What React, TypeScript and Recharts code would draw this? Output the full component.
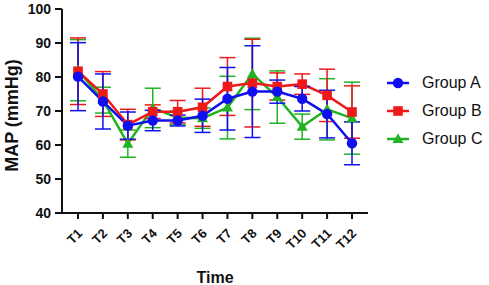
import React from 'react';
import { LineChart, Line, XAxis, YAxis, ErrorBar, Legend } from 'recharts';

const categories = ['T1', 'T2', 'T3', 'T4', 'T5', 'T6', 'T7', 'T8', 'T9', 'T10', 'T11', 'T12'];
const groupA = [80.1, 72.8, 65.7, 67.2, 67.2, 68.6, 73.6, 75.7, 75.7, 73.6, 69.1, 60.5];
const groupAErr = [10, 8.1, 4, 3, 1.6, 4.9, 9.2, 13.5, 3.4, 3.6, 7, 6.3];
const groupB = [81.7, 75, 66, 69.8, 69.8, 71.1, 77.2, 78.2, 77.2, 77.9, 74.6, 69.7];
const groupBErr = [9.8, 6.6, 4.5, 2, 3.3, 5.6, 8.5, 12.9, 4, 3, 7.7, 7.7];
const groupC = [82, 73.2, 60.4, 70.9, 68, 67.9, 71, 80.9, 74.1, 65.4, 70.5, 67.9];
const groupCErr = [9, 3.8, 4, 5.8, 2, 3, 9.2, 10.5, 7.7, 3.7, 9, 10.6];
const yTicks = [40, 50, 60, 70, 80, 90, 100];
const seriesNames = ['Group A', 'Group B', 'Group C'];
const yTitle = 'MAP (mmHg)';
const xTitle = 'Time';

const BLUE = '#0f0fef';
const RED = '#ee1a1a';
const GREEN = '#22b322';
const FONT = '"Liberation Sans", Arial, sans-serif';

const data = categories.map((c, i) => ({
  t: c,
  a: groupA[i],
  aErr: groupAErr[i],
  b: groupB[i],
  bErr: groupBErr[i],
  c: groupC[i],
  cErr: groupCErr[i],
}));

const Marker = ({ kind, cx, cy, color }: { kind: string; cx: number; cy: number; color: string }) => {
  if (kind === 'circle') return <circle cx={cx} cy={cy} r={5.2} fill={color} />;
  if (kind === 'square') return <rect x={cx - 4.8} y={cy - 4.8} width={9.6} height={9.6} fill={color} />;
  return <polygon points={`${cx},${cy - 5.5} ${cx + 5.5},${cy + 4} ${cx - 5.5},${cy + 4}`} fill={color} />;
};

const makeDot = (kind: string, color: string) => (props: any) => {
  const { cx, cy, index } = props;
  if (cx == null || cy == null) return <g key={index} />;
  return <Marker key={index} kind={kind} cx={cx} cy={cy} color={color} />;
};

const XTick = (props: any) => {
  const { x, y, payload } = props;
  return (
    <g transform={`translate(${x + 2},${y + 10})`}>
      <text
        x={0}
        y={0}
        dy="0.35em"
        textAnchor="end"
        transform="rotate(-45)"
        fill="#111"
        fontSize={13}
        fontWeight="bold"
        fontFamily={FONT}
      >
        {payload.value}
      </text>
    </g>
  );
};

const YTitle = (props: any) => {
  const vb = props.viewBox || { x: 0, y: 0, width: 0, height: 0 };
  const cx = vb.x + 12;
  const cy = vb.y + vb.height / 2 + 4.5;
  return (
    <text
      x={cx}
      y={cy}
      dy="0.36em"
      textAnchor="middle"
      transform={`rotate(-90, ${cx}, ${cy})`}
      fill="#111"
      fontSize={18}
      fontWeight="bold"
      fontFamily={FONT}
    >
      {yTitle}
    </text>
  );
};

const legendItems = [
  { name: seriesNames[0], color: BLUE, kind: 'circle' },
  { name: seriesNames[1], color: RED, kind: 'square' },
  { name: seriesNames[2], color: GREEN, kind: 'triangle' },
];

const LegendContent = () => (
  <div style={{ fontFamily: FONT }}>
    {legendItems.map((it) => (
      <div key={it.name} style={{ display: 'flex', alignItems: 'center', height: 28 }}>
        <svg width={24} height={14} style={{ display: 'block' }}>
          <line x1={1} y1={7} x2={23} y2={7} stroke={it.color} strokeWidth={2.5} />
          <Marker kind={it.kind} cx={12} cy={7} color={it.color} />
        </svg>
        <span style={{ marginLeft: 12, fontSize: 16, color: '#111' }}>{it.name}</span>
      </div>
    ))}
  </div>
);

export default function App() {
  return (
    <div style={{ position: 'absolute', left: 0, top: 0, width: 489, height: 285, background: '#fff' }}>
      <LineChart width={489} height={285} data={data} margin={{ top: 9, right: 121, bottom: 0, left: 0 }}>
        <XAxis
          dataKey="t"
          type="category"
          padding={{ left: 16, right: 16 }}
          height={72}
          axisLine={{ stroke: '#111', strokeWidth: 2 }}
          tickLine={{ stroke: '#111', strokeWidth: 2 }}
          tickSize={6}
          tick={<XTick />}
          interval={0}
          label={{
            value: xTitle,
            position: 'insideBottom',
            offset: 2,
            style: { fontFamily: FONT, fontWeight: 'bold', fontSize: 16, fill: '#111' },
          }}
        />
        <YAxis
          type="number"
          domain={[40, 100]}
          ticks={yTicks}
          width={62}
          interval={0}
          axisLine={{ stroke: '#111', strokeWidth: 2 }}
          tickLine={{ stroke: '#111', strokeWidth: 2 }}
          tickSize={7}
          tickMargin={4}
          tick={{ fill: '#111', fontSize: 14, fontWeight: 'bold', fontFamily: FONT }}
          label={<YTitle />}
        />
        <Legend
          layout="vertical"
          align="center"
          verticalAlign="middle"
          content={<LegendContent />}
          wrapperStyle={{ position: 'absolute', left: 386, top: 69, width: 103 }}
        />
        <Line
          dataKey="c"
          name={seriesNames[2]}
          stroke={GREEN}
          strokeWidth={2.5}
          dot={makeDot('triangle', GREEN)}
          activeDot={false}
          isAnimationActive={false}
        >
          <ErrorBar dataKey="cErr" width={8} stroke={GREEN} strokeWidth={1.5} />
        </Line>
        <Line
          dataKey="b"
          name={seriesNames[1]}
          stroke={RED}
          strokeWidth={2.5}
          dot={makeDot('square', RED)}
          activeDot={false}
          isAnimationActive={false}
        >
          <ErrorBar dataKey="bErr" width={8} stroke={RED} strokeWidth={1.5} />
        </Line>
        <Line
          dataKey="a"
          name={seriesNames[0]}
          stroke={BLUE}
          strokeWidth={2.5}
          dot={makeDot('circle', BLUE)}
          activeDot={false}
          isAnimationActive={false}
        >
          <ErrorBar dataKey="aErr" width={8} stroke={BLUE} strokeWidth={1.5} />
        </Line>
      </LineChart>
    </div>
  );
}
